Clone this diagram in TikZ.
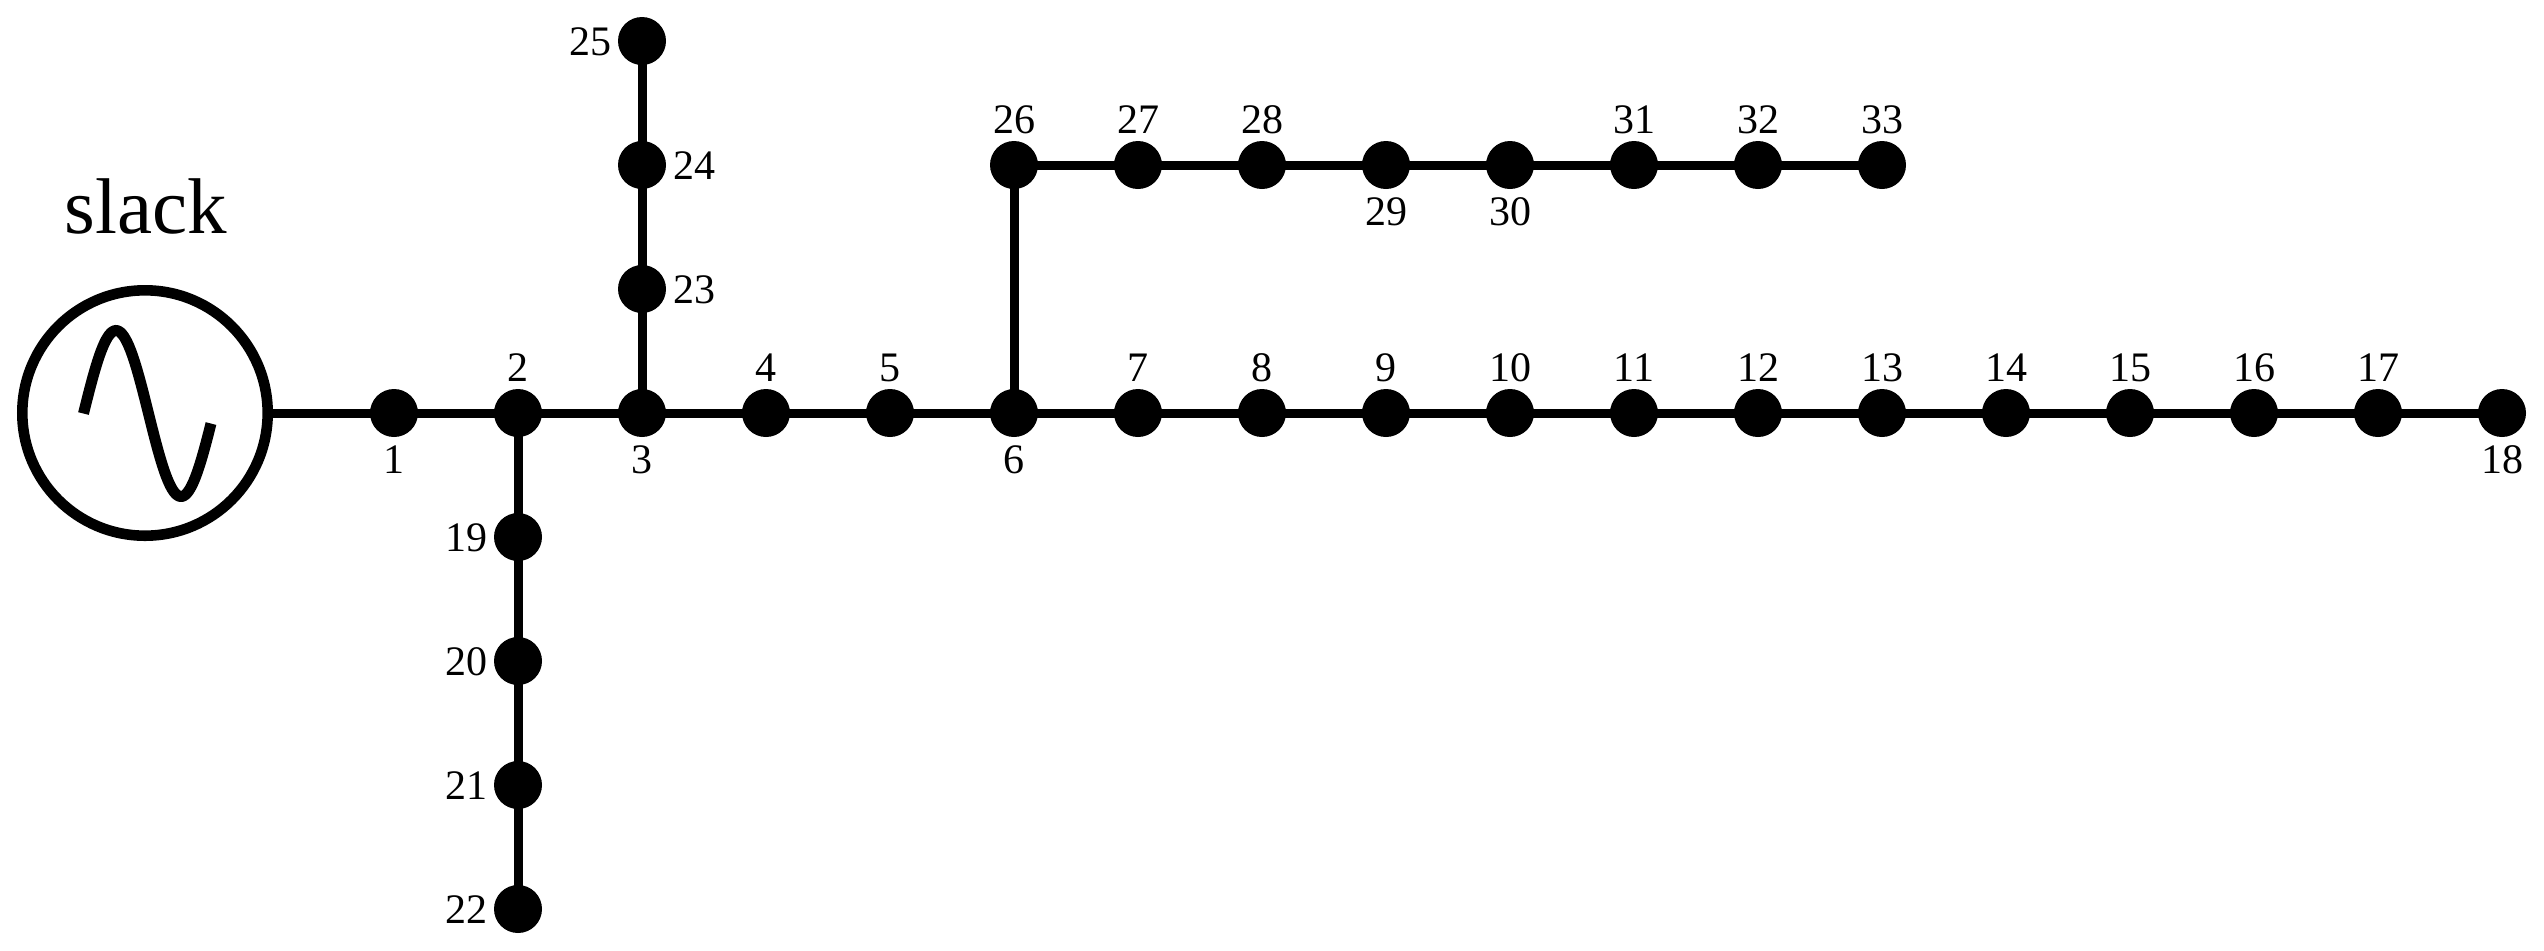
\documentclass[tikz,border=0pt]{standalone}
\usepackage{fontspec}
\setmainfont{Liberation Serif}
\usetikzlibrary{calc}
\tikzset{
  bus/.style={circle,fill=black,inner sep=0pt,minimum size=24pt},
  wire/.style={line width=4.5pt},
  lab/.style={inner sep=0pt,anchor=base,font=\fontsize{21}{21}\selectfont},
  gen/.style={circle,draw=black,line width=5.3pt,inner sep=0pt,minimum size=122.7pt},
}
\begin{document}
\begin{tikzpicture}[x=0.5pt,y=-0.5pt]
\useasboundingbox (0,0) rectangle (2544,950);
% main feeder 1..18
\foreach \n in {1,...,18} \coordinate (b\n) at ({394+124*(\n-1)},413);
% lateral 19..22
\foreach \n in {19,...,22} \coordinate (b\n) at (518,{413+124*(\n-18)});
% lateral 23..25
\foreach \n in {23,...,25} \coordinate (b\n) at (642,{413-124*(\n-22)});
% lateral 26..33
\foreach \n in {26,...,33} \coordinate (b\n) at ({1014+124*(\n-26)},165);
\node[gen] (gen) at (145,413) {};
\draw[wire] (gen) -- (b1);
\draw[wire] (b1)
  \foreach \n in {2,...,18} { -- (b\n) };
\draw[wire] (b2) -- (b19) -- (b20) -- (b21) -- (b22);
\draw[wire] (b3) -- (b23) -- (b24) -- (b25);
\draw[wire] (b6) -- (b26)
  \foreach \n in {27,...,33} { -- (b\n) };
\foreach \n in {1,...,33} \node[bus] (n\n) at (b\n) {};
% labels: base anchor, digit centre sits 14 px above baseline
\foreach \n in {2,4,5,7,8,9,10,11,12,13,14,15,16,17,26,27,28,31,32,33}
  \node[lab] (l\n) at ($(b\n)+(0,-32)$) {\n};
\foreach \n in {1,3,6,18,29,30}
  \node[lab] (l\n) at ($(b\n)+(0,60)$) {\n};
\foreach \n in {19,20,21,22,25}
  \node[lab] (l\n) at ($(b\n)+(-52,14)$) {\n};
\foreach \n in {23,24}
  \node[lab] (l\n) at ($(b\n)+(52,14)$) {\n};
\node[inner sep=0pt,anchor=base,font=\fontsize{39.5}{40}\selectfont] (slack) at (146,233) {slack};
\draw[line width=5.5pt] plot[domain=83.5:211,samples=80,smooth] (\x,{413.5-83*sin(2.769*(\x-83.5))});
\end{tikzpicture}
\end{document}
